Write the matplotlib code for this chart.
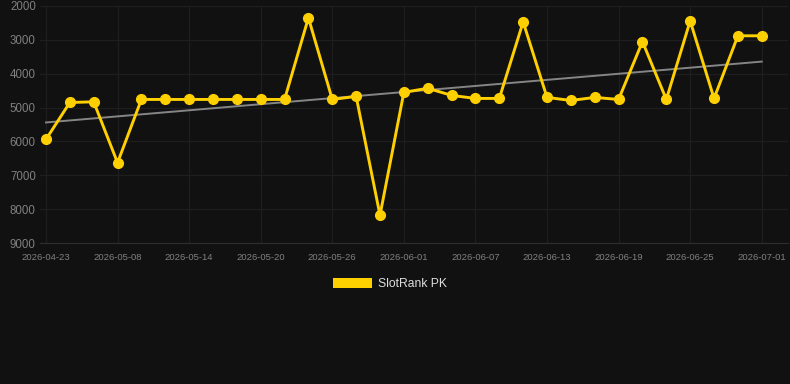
import matplotlib
matplotlib.use("Agg")
import matplotlib.pyplot as plt
import numpy as np
from matplotlib.patches import Patch

dates = ["2026-04-23", "2026-04-28", "2026-05-03", "2026-05-08", "2026-05-10", "2026-05-12",
         "2026-05-14", "2026-05-16", "2026-05-18", "2026-05-20", "2026-05-22", "2026-05-24",
         "2026-05-26", "2026-05-28", "2026-05-30", "2026-06-01", "2026-06-03", "2026-06-05",
         "2026-06-07", "2026-06-09", "2026-06-11", "2026-06-13", "2026-06-15", "2026-06-17",
         "2026-06-19", "2026-06-21", "2026-06-23", "2026-06-25", "2026-06-27", "2026-06-29",
         "2026-07-01"]
rank = [5940, 4850, 4830, 6630, 4760, 4760, 4760, 4760, 4760, 4760, 4760, 2350,
        4760, 4670, 8180, 4550, 4430, 4640, 4730, 4730, 2470, 4700, 4790, 4700,
        4760, 3050, 4760, 2440, 4730, 2880, 2880]
series_name = "SlotRank PK"
y_ticks = [2000, 3000, 4000, 5000, 6000, 7000, 8000, 9000]

plt.rcParams['font.family'] = ['Liberation Sans', 'DejaVu Sans']
bg = "#111111"
fig = plt.figure(figsize=(7.9, 3.84), dpi=100, facecolor=bg)
ax = fig.add_axes([40/790, 1-243/384, 748/790, 237/384], facecolor=bg)

x = np.arange(len(rank))
coef = np.polyfit(x, rank, 1)
ax.plot(x, np.polyval(coef, x), color="#858585", lw=1.4, zorder=2)
ax.plot(x, rank, color="#FFD000", lw=2.1, marker="o", ms=7, zorder=3)

ax.set_ylim(9000, 2000)
ax.set_xlim(-0.25, 31.1)
ax.set_yticks(y_ticks)
ax.set_yticklabels([str(v) for v in y_ticks])
tick_idx = list(range(0, len(dates), 3))
ax.set_xticks(tick_idx)
ax.set_xticklabels([dates[i] for i in tick_idx])
ax.grid(True, color="#1e1e1e", lw=0.9)
ax.set_axisbelow(True)
for s in ["top", "right", "left"]:
    ax.spines[s].set_visible(False)
ax.spines["bottom"].set_color("#2e2e2e")
ax.tick_params(axis="y", length=0, pad=3, labelsize=8.3, labelcolor="#808080")
ax.tick_params(axis="x", length=0, pad=7, labelsize=6.8, labelcolor="#808080")

handle = Patch(facecolor="#FFD000", edgecolor="none")
fig.legend([handle], [series_name], loc="center", bbox_to_anchor=(390/790, 1-284/384),
           frameon=False, handlelength=3.3, handleheight=0.95, handletextpad=0.5,
           fontsize=8.7, labelcolor="#dddddd")

fig.savefig("out.png", dpi=100, facecolor=bg)
